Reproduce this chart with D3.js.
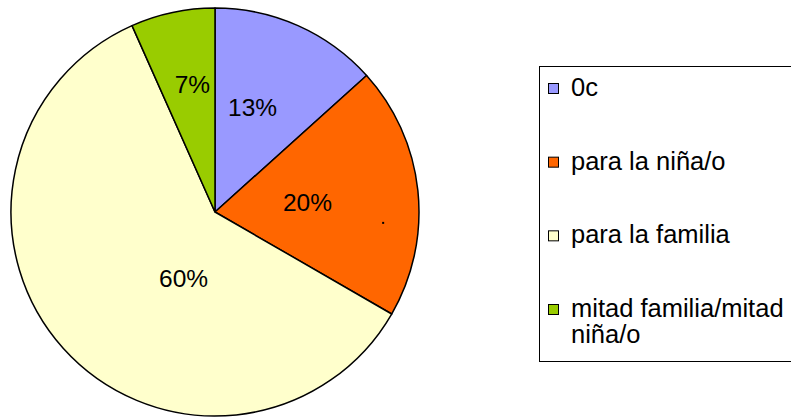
<!DOCTYPE html>
<html>
<head>
<meta charset="utf-8">
<script src="https://cdn.jsdelivr.net/npm/d3@7"></script>
<style>
  html, body { margin: 0; padding: 0; background: #fff; }
  svg { display: block; }
  text { font-family: "Liberation Sans", Arial, sans-serif; fill: #000; }
</style>
</head>
<body>
<svg id="chart" width="791" height="417"></svg>
<script>
// ---- data ----
const categories = ["0c", "para la niña/o", "para la familia", "mitad familia/mitad niña/o"];
const values = [2, 3, 9, 1];   // counts (15 in total)
const sliceLabels = ["13%", "20%", "60%", "7%"];
const legendLines = [["0c"], ["para la niña/o"], ["para la familia"], ["mitad familia/mitad", "niña/o"]];
const colors = ["#9999FF", "#FF6600", "#FFFFCC", "#99CC00"];

// ---- layout ----
const W = 791, H = 417;
const cx = 215, cy = 212, R = 204;
// label placement as [fraction of radius, angle in degrees clockwise from 12 o'clock]
const labelPolar = [[0.547, 19.7], [0.456, 83.8], [0.358, 205.5], [0.637, 350]];
const strayDot = [0.826, 93.7];

const svg = d3.select("#chart");
const g = svg.append("g").attr("transform", `translate(${cx},${cy})`);

const pie = d3.pie().sort(null).value(d => d).startAngle(0).endAngle(2 * Math.PI);
const arc = d3.arc().innerRadius(0).outerRadius(R);
const arcs = pie(values);

g.selectAll("path.slice")
  .data(arcs)
  .enter().append("path")
  .attr("class", "slice")
  .attr("d", arc)
  .attr("fill", (d, i) => colors[i])
  .attr("stroke", "#000")
  .attr("stroke-width", 1.5)
  .attr("stroke-linejoin", "round");

const polar = (f, deg) => {
  const a = deg * Math.PI / 180;
  return [f * R * Math.sin(a), -f * R * Math.cos(a)];
};

g.selectAll("text.lbl")
  .data(arcs)
  .enter().append("text")
  .attr("class", "lbl")
  .attr("x", (d, i) => polar(labelPolar[i][0], labelPolar[i][1])[0])
  .attr("y", (d, i) => polar(labelPolar[i][0], labelPolar[i][1])[1])
  .attr("dy", "0.36em")
  .attr("text-anchor", "middle")
  .style("font-size", "24.5px")
  .text((d, i) => sliceLabels[i]);

// stray tiny mark in the orange slice
const sd = polar(strayDot[0], strayDot[1]);
g.append("rect")
  .attr("x", sd[0] - 1).attr("y", sd[1] - 1)
  .attr("width", 2).attr("height", 2)
  .attr("fill", "#000");

// ---- legend ----
const lg = { x: 539, y: 66, w: 270, h: 295 };
svg.append("rect")
  .attr("x", lg.x + 0.5).attr("y", lg.y + 0.5)
  .attr("width", lg.w).attr("height", lg.h)
  .attr("fill", "#fff")
  .attr("stroke", "#000")
  .attr("stroke-width", 1);

const ly = d3.scalePoint().domain(categories).range([89, 310]);
const items = svg.selectAll("g.item")
  .data(categories)
  .enter().append("g")
  .attr("class", "item")
  .attr("transform", d => `translate(548,${ly(d)})`);

items.append("rect")
  .attr("x", 0.5).attr("y", -5.5)
  .attr("width", 10).attr("height", 10)
  .attr("fill", (d, i) => colors[i])
  .attr("stroke", "#000")
  .attr("stroke-width", 1);

items.append("text")
  .attr("x", 23)
  .attr("y", 7)
  .style("font-size", "25.5px")
  .each(function (d, i) {
    const t = d3.select(this);
    legendLines[i].forEach((ln, j) => {
      t.append("tspan").attr("x", 23).attr("dy", j === 0 ? 0 : 26).text(ln);
    });
  });
</script>
</body>
</html>
